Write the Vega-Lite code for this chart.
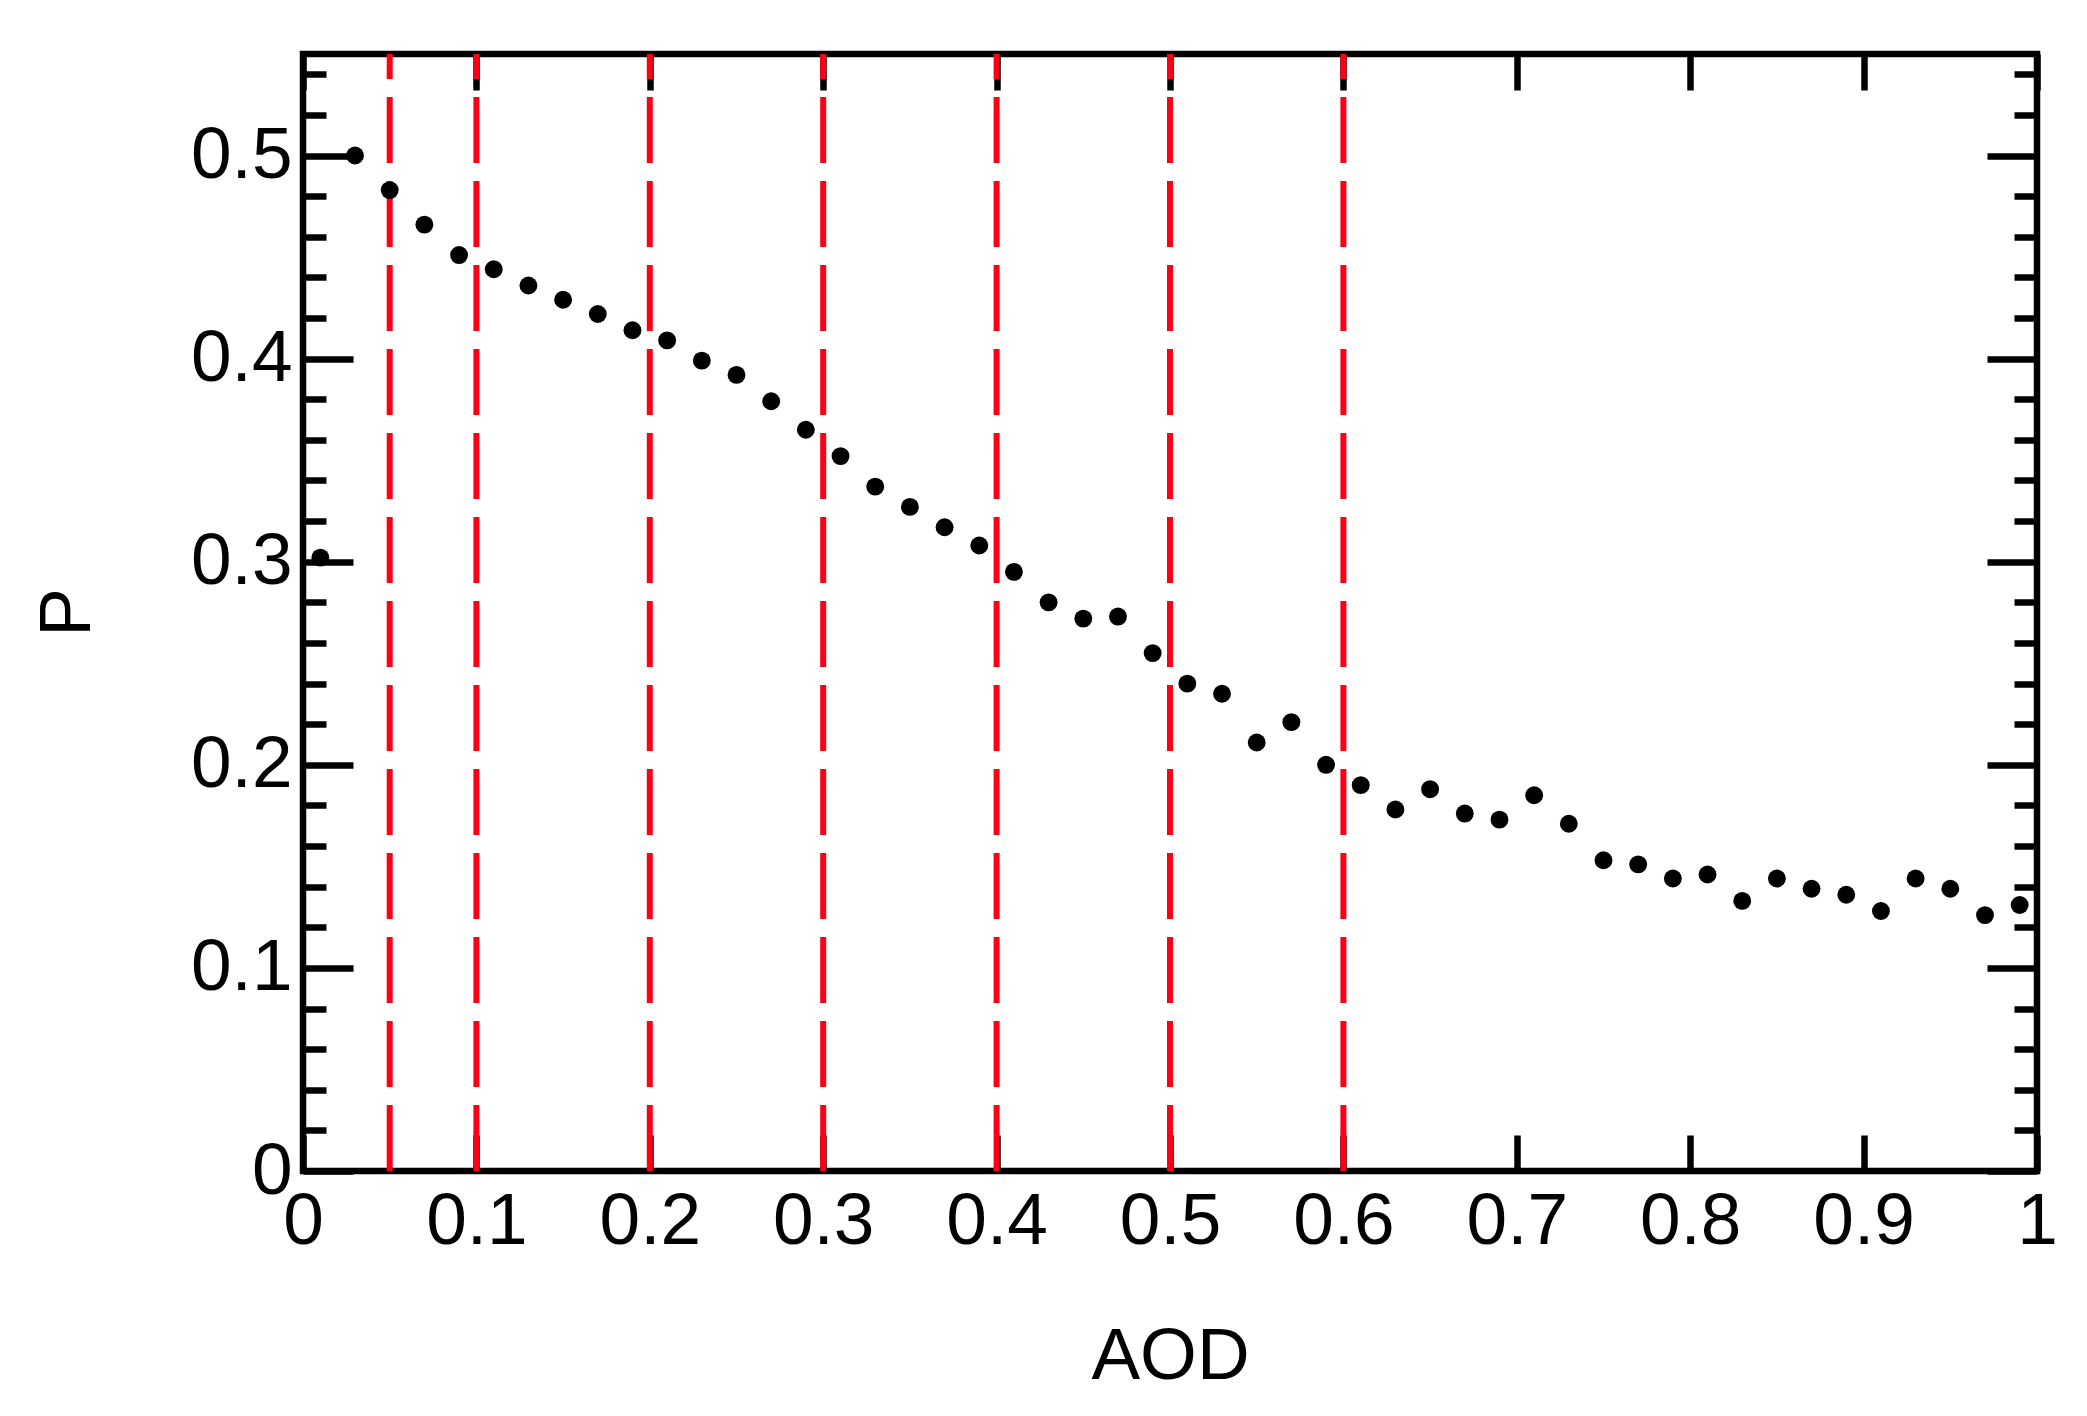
{
  "$schema": "https://vega.github.io/schema/vega-lite/v6.json",
  "width": 1734,
  "height": 1117,
  "autosize": {"type": "none"},
  "padding": {"left": 303, "top": 54, "right": 50, "bottom": 245},
  "background": "white",
  "config": {
    "view": {"stroke": "black", "strokeWidth": 6.5},
    "font": "Liberation Sans",
    "axis": {
      "grid": false,
      "domain": false,
      "tickColor": "black",
      "tickWidth": 6.5,
      "labelFont": "Liberation Sans",
      "labelFontSize": 73,
      "labelColor": "black",
      "titleFont": "Liberation Sans",
      "titleFontSize": 73,
      "titleFontWeight": "normal",
      "titleColor": "black",
      "labelFlush": false,
      "labelOverlap": false,
      "labelBound": false
    }
  },
  "layer": [
    {
      "data": {"values": [{"aod": 0.05}, {"aod": 0.1}, {"aod": 0.2}, {"aod": 0.3}, {"aod": 0.4}, {"aod": 0.5}, {"aod": 0.6}]},
      "mark": {"type": "rule", "color": "#fe0016", "strokeWidth": 6, "strokeDash": [66, 18]},
      "encoding": {
        "x": {
          "field": "aod",
          "type": "quantitative",
          "scale": {"domain": [0, 1], "nice": false, "zero": false},
          "axis": {"orient": "top", "values": [0, 0.1, 0.2, 0.3, 0.4, 0.5, 0.6, 0.7, 0.8, 0.9, 1], "tickSize": -36, "labels": false, "title": null}
        },
        "y": {
          "datum": 0,
          "type": "quantitative",
          "scale": {"domain": [0, 0.55], "nice": false},
          "axis": {
            "orient": "right",
            "values": [0, 0.02, 0.04, 0.06, 0.08, 0.1, 0.12, 0.14, 0.16, 0.18, 0.2, 0.22, 0.24, 0.26, 0.28, 0.3, 0.32, 0.34, 0.36, 0.38, 0.4, 0.42, 0.44, 0.46, 0.48, 0.5, 0.52, 0.54],
            "tickSize": {"condition": {"test": "abs(datum.value * 10 - round(datum.value * 10)) < 0.001", "value": -50}, "value": -23},
            "labels": false,
            "title": null
          }
        },
        "y2": {"datum": 0.55}
      }
    },
    {
      "data": {
        "values": [
          {"aod": 0.01, "p": 0.302}, {"aod": 0.03, "p": 0.500}, {"aod": 0.05, "p": 0.483}, {"aod": 0.07, "p": 0.466},
          {"aod": 0.09, "p": 0.451}, {"aod": 0.11, "p": 0.444}, {"aod": 0.13, "p": 0.436}, {"aod": 0.15, "p": 0.429},
          {"aod": 0.17, "p": 0.422}, {"aod": 0.19, "p": 0.414}, {"aod": 0.21, "p": 0.409}, {"aod": 0.23, "p": 0.399},
          {"aod": 0.25, "p": 0.392}, {"aod": 0.27, "p": 0.379}, {"aod": 0.29, "p": 0.365}, {"aod": 0.31, "p": 0.352},
          {"aod": 0.33, "p": 0.337}, {"aod": 0.35, "p": 0.327}, {"aod": 0.37, "p": 0.317}, {"aod": 0.39, "p": 0.308},
          {"aod": 0.41, "p": 0.295}, {"aod": 0.43, "p": 0.280}, {"aod": 0.45, "p": 0.272}, {"aod": 0.47, "p": 0.273},
          {"aod": 0.49, "p": 0.255}, {"aod": 0.51, "p": 0.240}, {"aod": 0.53, "p": 0.235}, {"aod": 0.55, "p": 0.211},
          {"aod": 0.57, "p": 0.221}, {"aod": 0.59, "p": 0.200}, {"aod": 0.61, "p": 0.190}, {"aod": 0.63, "p": 0.178},
          {"aod": 0.65, "p": 0.188}, {"aod": 0.67, "p": 0.176}, {"aod": 0.69, "p": 0.173}, {"aod": 0.71, "p": 0.185},
          {"aod": 0.73, "p": 0.171}, {"aod": 0.75, "p": 0.153}, {"aod": 0.77, "p": 0.151}, {"aod": 0.79, "p": 0.144},
          {"aod": 0.81, "p": 0.146}, {"aod": 0.83, "p": 0.133}, {"aod": 0.85, "p": 0.144}, {"aod": 0.87, "p": 0.139},
          {"aod": 0.89, "p": 0.136}, {"aod": 0.91, "p": 0.128}, {"aod": 0.93, "p": 0.144}, {"aod": 0.95, "p": 0.139},
          {"aod": 0.97, "p": 0.126}, {"aod": 0.99, "p": 0.131}
        ]
      },
      "mark": {"type": "point", "filled": true, "color": "black", "size": 320, "opacity": 1, "strokeWidth": 0},
      "encoding": {
        "x": {
          "field": "aod",
          "type": "quantitative",
          "scale": {"domain": [0, 1], "nice": false, "zero": false},
          "axis": {
            "orient": "bottom",
            "values": [0, 0.1, 0.2, 0.3, 0.4, 0.5, 0.6, 0.7, 0.8, 0.9, 1],
            "tickSize": -36,
            "labelPadding": 50,
            "format": "~g",
            "title": "AOD",
            "titleX": 867,
            "titleY": 207,
            "titleBaseline": "alphabetic",
            "titleAlign": "center"
          }
        },
        "y": {
          "field": "p",
          "type": "quantitative",
          "scale": {"domain": [0, 0.55], "nice": false},
          "axis": {
            "orient": "left",
            "values": [0, 0.02, 0.04, 0.06, 0.08, 0.1, 0.12, 0.14, 0.16, 0.18, 0.2, 0.22, 0.24, 0.26, 0.28, 0.3, 0.32, 0.34, 0.36, 0.38, 0.4, 0.42, 0.44, 0.46, 0.48, 0.5, 0.52, 0.54],
            "tickSize": {"condition": {"test": "abs(datum.value * 10 - round(datum.value * 10)) < 0.001", "value": -50}, "value": -23},
            "labelPadding": 61,
            "labelExpr": "abs(datum.value * 10 - round(datum.value * 10)) < 0.001 ? format(datum.value, '~g') : ''",
            "title": "P",
            "titleX": -214,
            "titleY": 558,
            "titleAngle": -90,
            "titleBaseline": "alphabetic",
            "titleAlign": "center"
          }
        }
      }
    }
  ],
  "resolve": {
    "scale": {"x": "independent", "y": "independent"},
    "axis": {"x": "independent", "y": "independent"}
  }
}
